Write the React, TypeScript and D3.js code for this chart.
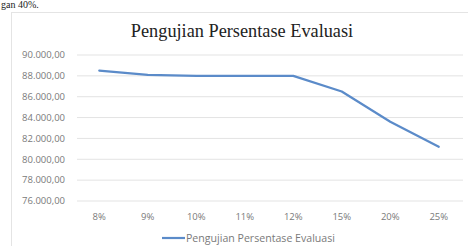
import React from "react";
import * as d3 from "d3";

const categories = ["8%", "9%", "10%", "11%", "12%", "15%", "20%", "25%"];
const values = [88.5, 88.1, 88.0, 88.0, 88.0, 86.5, 83.6, 81.2];
const yTicks = [76, 78, 80, 82, 84, 86, 88, 90];
const seriesName = "Pengujian Persentase Evaluasi";
const title = "Pengujian Persentase Evaluasi";

const W = 468, H = 246;
const left = 75, right = 463, top = 55, bottom = 201;

export default function App() {
  const x = d3.scaleBand<string>().domain(categories).range([left, right]).padding(0);
  const y = d3.scaleLinear().domain([76, 90]).range([bottom, top]);
  const line = d3.line<number>()
    .x((_, i) => (x(categories[i]) as number) + x.bandwidth() / 2)
    .y((d) => y(d));
  const fmtTick = (v: number) => `${v}.000,00`;
  return (
    <svg width={W} height={H} style={{ position: "absolute", left: 0, top: 0, background: "#fff" }}>
      <text x={1} y={8} fontFamily="Liberation Serif" fontSize={10} fill="#222">gan 40%.</text>
      <rect x={11.5} y={12.5} width={470} height={240} fill="#fff" stroke="#e4e4e4" />
      <text x={242} y={37} textAnchor="middle" fontFamily="Liberation Serif" fontSize={18.3} fill="#222">{title}</text>
      {yTicks.map((t) => (
        <g key={t}>
          <line x1={77} x2={right} y1={y(t)} y2={y(t)} stroke="#e3e3e3" strokeWidth={1} />
          <text x={65} y={y(t) + 3.3} textAnchor="end" fontFamily="Open Sans" fontSize={9.5} fill="#7a7a7a">{fmtTick(t)}</text>
        </g>
      ))}
      {categories.map((c) => (
        <text key={c} x={(x(c) as number) + x.bandwidth() / 2} y={220} textAnchor="middle" fontFamily="Open Sans" fontSize={9.5} fill="#7a7a7a">{c}</text>
      ))}
      <path d={line(values) || ""} fill="none" stroke="#5b8bc9" strokeWidth={2.2} strokeLinejoin="round" strokeLinecap="round" />
      <line x1={162} x2={185} y1={238} y2={238} stroke="#5b8bc9" strokeWidth={2.2} />
      <text x={186} y={241.5} fontFamily="Open Sans" fontSize={10.6} fill="#7a7a7a">{seriesName}</text>
    </svg>
  );
}
